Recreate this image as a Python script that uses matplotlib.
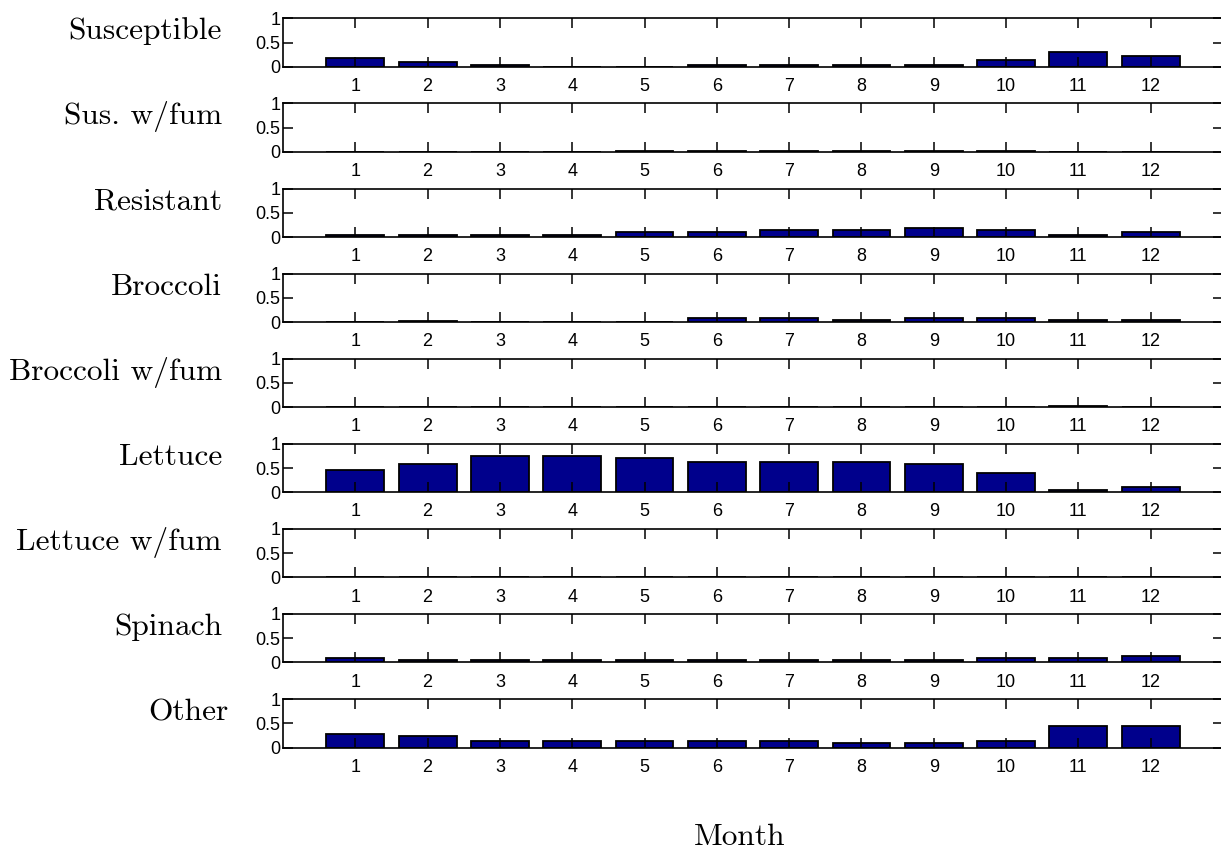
import matplotlib
matplotlib.use("Agg")
import matplotlib.pyplot as plt
import numpy as np

months = list(range(1, 13))
row_labels = ["Susceptible", "Sus. w/fum", "Resistant", "Broccoli",
              "Broccoli w/fum", "Lettuce", "Lettuce w/fum", "Spinach", "Other"]

susceptible = [0.19, 0.10, 0.03, 0.0, 0.0, 0.03, 0.03, 0.03, 0.03, 0.14, 0.31, 0.23]
sus_fum = [0.0, 0.0, 0.0, 0.0, 0.02, 0.02, 0.02, 0.02, 0.02, 0.02, 0.0, 0.0]
resistant = [0.05, 0.05, 0.05, 0.05, 0.10, 0.10, 0.15, 0.15, 0.18, 0.15, 0.05, 0.10]
broccoli = [0.0, 0.03, 0.0, 0.0, 0.0, 0.08, 0.08, 0.04, 0.08, 0.08, 0.04, 0.04]
broccoli_fum = [0.0, 0.0, 0.0, 0.0, 0.0, 0.0, 0.0, 0.0, 0.0, 0.0, 0.03, 0.0]
lettuce = [0.45, 0.58, 0.75, 0.75, 0.70, 0.62, 0.62, 0.62, 0.58, 0.40, 0.05, 0.10]
lettuce_fum = [0.0] * 12
spinach = [0.09, 0.05, 0.05, 0.05, 0.05, 0.05, 0.05, 0.05, 0.05, 0.09, 0.09, 0.14]
other = [0.28, 0.23, 0.14, 0.14, 0.14, 0.14, 0.14, 0.09, 0.09, 0.14, 0.45, 0.45]

series = [susceptible, sus_fum, resistant, broccoli, broccoli_fum,
          lettuce, lettuce_fum, spinach, other]
yticks = [0, 0.5, 1]
ytick_labels = ["0", "0.5", "1"]

W, H = 1221, 850
fig = plt.figure(figsize=(W / 100, H / 100), dpi=100)

left_px, right_px = 283, 1223
top0, step, hgt = 18.3, 85.1, 48.5
tick_font = {"family": ["Liberation Sans", "DejaVu Sans"], "size": 13}

for i, (lab, vals) in enumerate(zip(row_labels, series)):
    top = top0 + step * i
    ax = fig.add_axes([left_px / W, 1 - (top + hgt) / H,
                       (right_px - left_px) / W, hgt / H])
    ax.bar(months, vals, width=0.8, color="#00008C", edgecolor="black",
           linewidth=1.3, zorder=1)
    ax.set_xlim(0, 13)
    ax.set_ylim(0, 1)
    ax.set_xticks(months)
    ax.set_xticklabels([str(m) for m in months], fontdict=tick_font)
    ax.set_yticks(yticks)
    ax.set_yticklabels(ytick_labels, fontdict=tick_font)
    ax.tick_params(axis="x", direction="in", length=7.5, width=1.1,
                   top=True, bottom=True, pad=8)
    ax.tick_params(axis="y", direction="in", length=7.5, width=1.1,
                   left=True, right=True, pad=2)
    for sp in ax.spines.values():
        sp.set_linewidth(1.2)
    xr = 222 if lab != "Other" else 228
    fig.text(xr / W, 1 - (top + 21) / H, lab, ha="right", va="baseline",
             family="cmr10", fontsize=22.6)

fig.text(740 / W, 1 - 845 / H, "Month", ha="center", va="baseline",
         family="cmr10", fontsize=22.6)

fig.savefig("out.png", dpi=100)
